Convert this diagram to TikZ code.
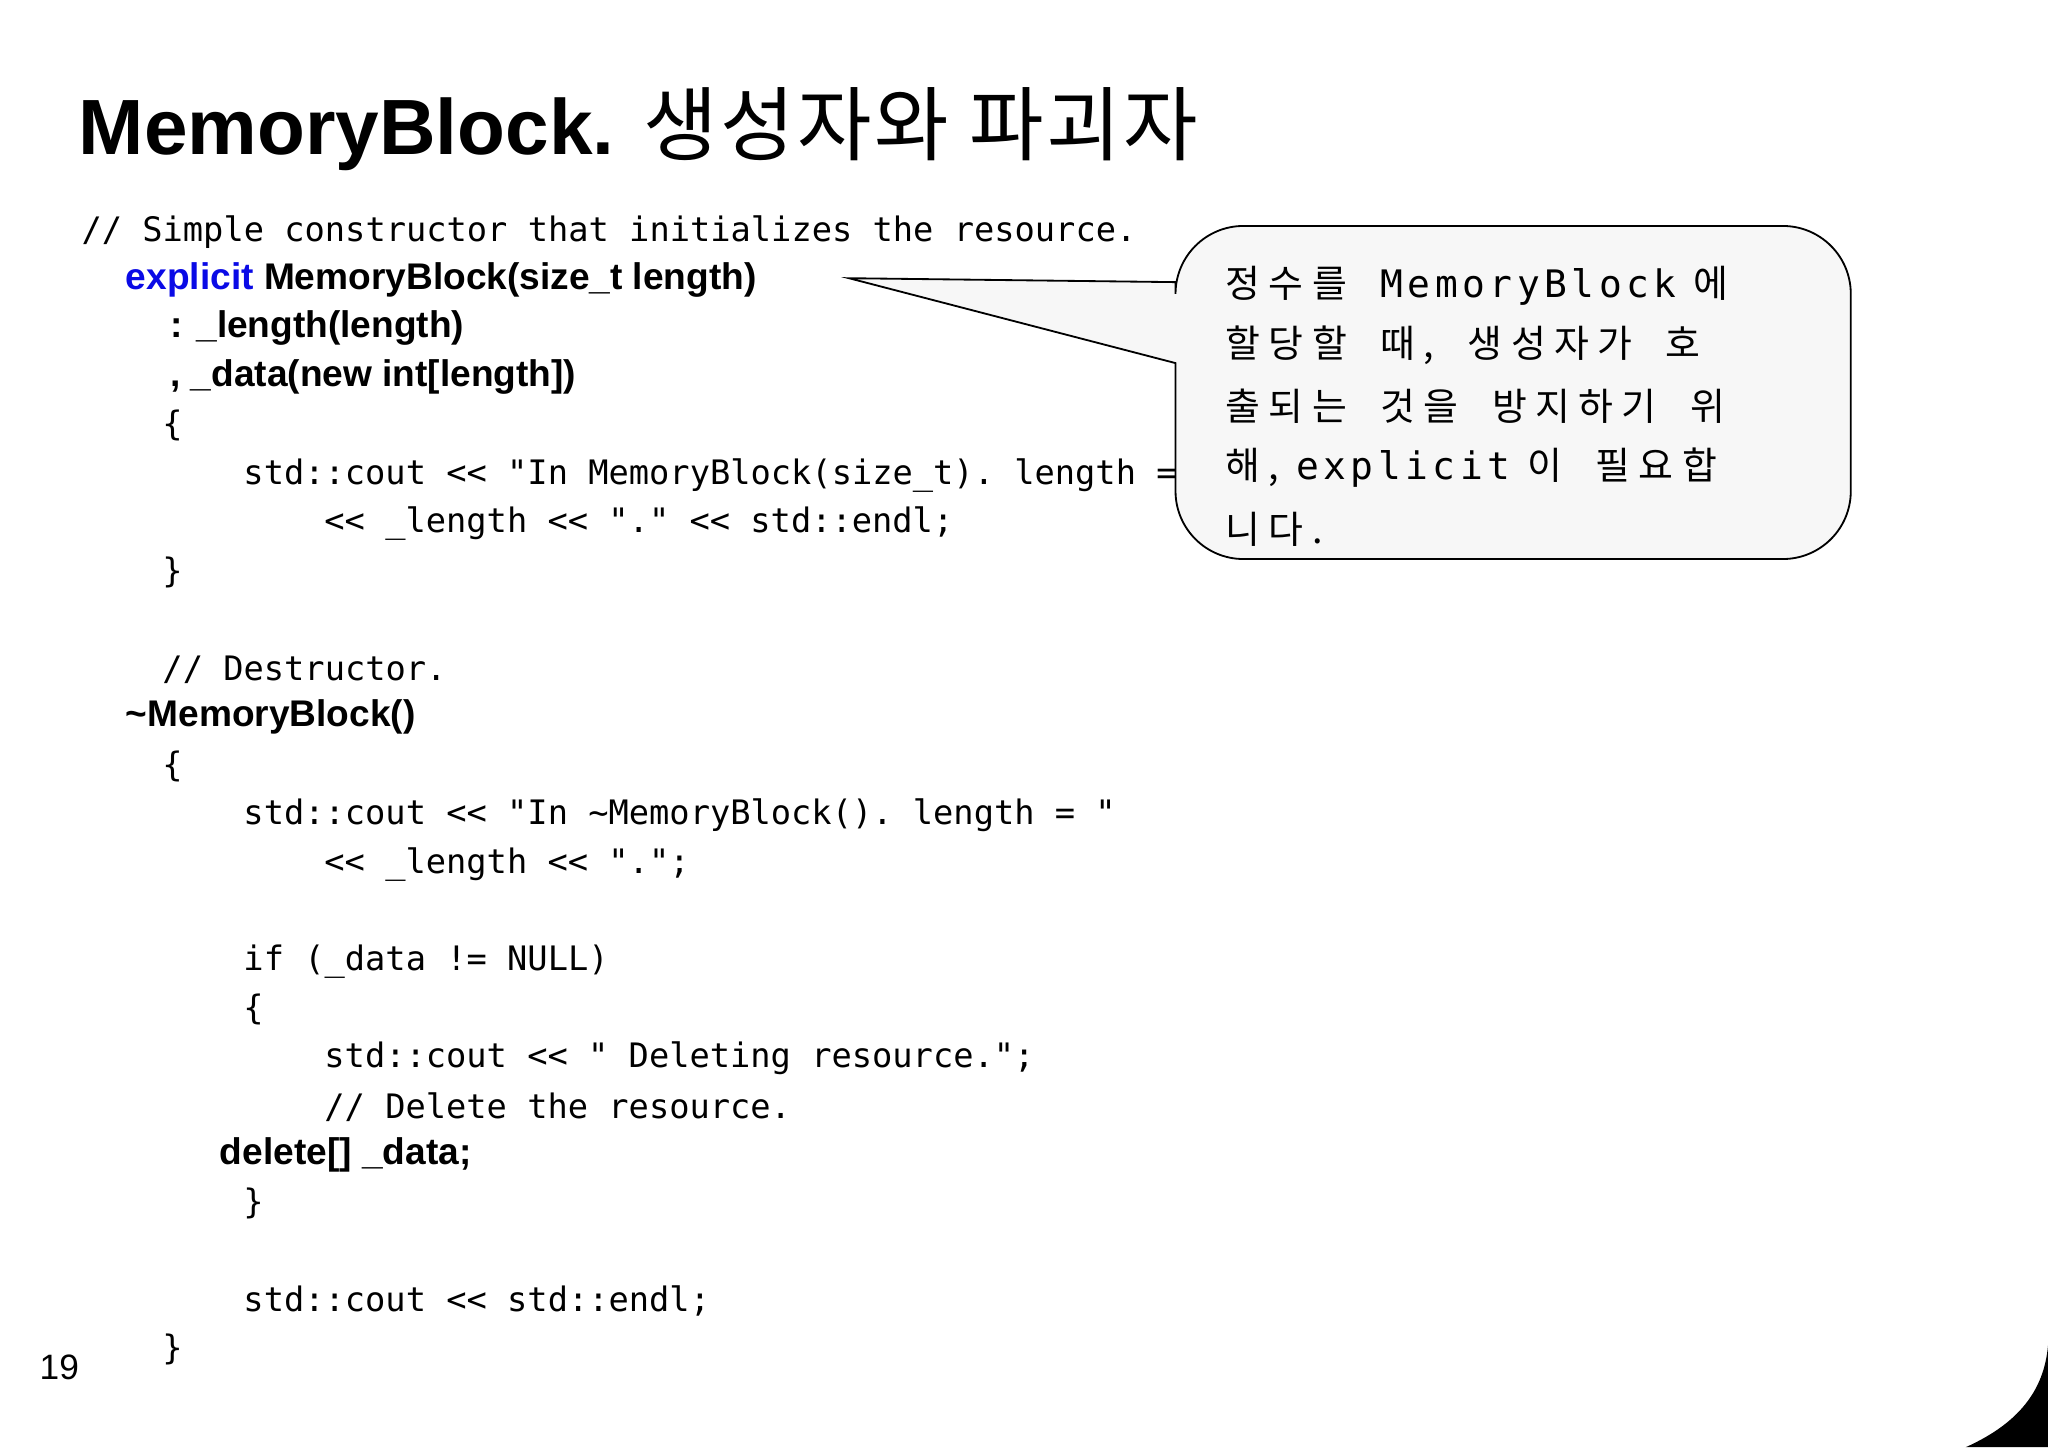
\documentclass[tikz,border=0pt]{standalone}
\usepackage{fontspec}
\setmainfont{Liberation Sans}
\setmonofont{DejaVu Sans Mono}
\newfontfamily\kor{Noto Sans CJK KR}
\newfontfamily\korsp[LetterSpace=22]{Noto Sans CJK KR}
\newfontfamily\monosp[LetterSpace=12]{DejaVu Sans Mono}
\definecolor{kwblue}{RGB}{10,10,230}
\definecolor{bubble}{RGB}{247,247,247}
\begin{document}
\begin{tikzpicture}[x=0.5pt,y=-0.5pt,
  code/.style={anchor=west,inner sep=0pt,font=\ttfamily\fontsize{12.9}{14}\selectfont},
  bcode/.style={anchor=west,inner sep=0pt,font=\bfseries\fontsize{14.2}{16}\selectfont},
  ctext/.style={anchor=west,inner sep=0pt,font=\korsp\fontsize{14.5}{17}\selectfont}]
\useasboundingbox (0,0) rectangle (1568,1108);
\fill[white] (0,0) rectangle (1568,1108);
\node[anchor=base west,inner sep=0pt,font=\bfseries\fontsize{30}{34}\selectfont] (title) at (60,118) {MemoryBlock. {\kor\mdseries\fontsize{31}{34}\selectfont\addfontfeature{LetterSpace=3}생성자와 파괴자}};
\node[code] (l1) at (62,178) {// Simple constructor that initializes the resource.};
\node[bcode] (l2) at (96,214) {\textcolor{kwblue}{explicit} MemoryBlock(size\_t length)};
\node[bcode] (l3) at (130,251) {: \_length(length)};
\node[bcode] (l4) at (130,289) {, \_data(new int[length])};
\node[code] (l5) at (124,326) {\{};
\node[code] (l6) at (186,364) {std::cout << "In MemoryBlock(size\_t). length = "};
\node[code] (l7) at (248,401) {<< \_length << "." << std::endl;};
\node[code] (l8) at (124,438) {\}};
\node[code] (l9) at (124,513) {// Destructor.};
\node[bcode] (l10) at (96,549) {\textasciitilde MemoryBlock()};
\node[code] (l11) at (124,587) {\{};
\node[code] (l12) at (186,624) {std::cout << "In \textasciitilde MemoryBlock(). length = "};
\node[code] (l13) at (248,662) {<< \_length << ".";};
\node[code] (l14) at (186,736) {if (\_data != NULL)};
\node[code] (l15) at (186,773) {\{};
\node[code] (l16) at (248,810) {std::cout << " Deleting resource.";};
\node[code] (l17) at (248,848) {// Delete the resource.};
\node[bcode] (l18) at (168,884) {delete[] \_data;};
\node[code] (l19) at (186,921) {\}};
\node[code] (l20) at (186,996) {std::cout << std::endl;};
\node[code] (l21) at (124,1033) {\}};
\node[anchor=west,inner sep=0pt,font=\fontsize{13.5}{15}\selectfont] (pg) at (30,1047) {19};
% callout
\coordinate (tip) at (650,213);
\filldraw[fill=bubble,draw=black,line width=0.7pt,rounded corners=26pt]
  (900,216) -- (900,173) -- (1417,173) -- (1417,428) -- (900,428) [sharp corners] -- (900,278) -- (tip) -- cycle;
\node[ctext] (c1) at (938,219) {정수를 \ {\monosp MemoryBlock} 에};
\node[ctext] (c2) at (938,264) {할당할 \ 때, \ 생성자가 \ 호};
\node[ctext] (c3) at (938,311) {출되는 \ 것을 \ 방지하기 \ 위};
\node[ctext] (c4) at (938,358) {해, {\monosp explicit} 이 \ 필요합};
\node[ctext] (c5) at (938,405) {니다.};
% corner
\fill[black] (1505,1108) .. controls (1545,1090) and (1565,1065) .. (1568,1030) -- (1568,1108) -- cycle;
\end{tikzpicture}
\end{document}
